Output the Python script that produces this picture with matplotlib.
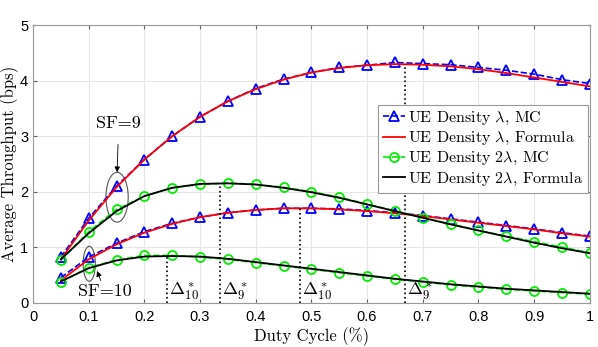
import numpy as np
import matplotlib.pyplot as plt
from matplotlib.patches import Ellipse

plt.rcParams['mathtext.fontset'] = 'cm'

# duty cycle points
duty = [0.05, 0.10, 0.15, 0.20, 0.25, 0.30, 0.35, 0.40, 0.45, 0.50,
        0.55, 0.60, 0.65, 0.70, 0.75, 0.80, 0.85, 0.90, 0.95, 1.00]

# SF=9
sf9_lam_mc = [0.82, 1.52, 2.10, 2.58, 3.00, 3.35, 3.63, 3.86, 4.03, 4.15,
              4.24, 4.28, 4.33, 4.31, 4.29, 4.24, 4.19, 4.12, 4.02, 3.95]
sf9_lam_formula = [0.78, 1.48, 2.08, 2.58, 3.00, 3.35, 3.63, 3.85, 4.02, 4.15,
                   4.23, 4.28, 4.30, 4.29, 4.26, 4.21, 4.14, 4.06, 3.98, 3.90]
sf9_2lam_mc = [0.76, 1.28, 1.68, 1.92, 2.07, 2.13, 2.16, 2.13, 2.08, 2.00,
               1.90, 1.78, 1.65, 1.53, 1.42, 1.30, 1.20, 1.10, 1.00, 0.90]
sf9_2lam_formula = [0.78, 1.25, 1.65, 1.92, 2.07, 2.14, 2.15, 2.13, 2.07, 1.99,
                    1.89, 1.77, 1.65, 1.53, 1.41, 1.30, 1.19, 1.08, 0.98, 0.89]

# SF=10
sf10_lam_mc = [0.45, 0.82, 1.07, 1.28, 1.43, 1.54, 1.62, 1.67, 1.70, 1.70,
               1.69, 1.66, 1.62, 1.57, 1.51, 1.45, 1.39, 1.33, 1.26, 1.20]
sf10_lam_formula = [0.40, 0.78, 1.05, 1.26, 1.42, 1.54, 1.62, 1.67, 1.70, 1.70,
                    1.68, 1.65, 1.61, 1.56, 1.50, 1.44, 1.38, 1.32, 1.25, 1.19]
sf10_2lam_mc = [0.38, 0.63, 0.77, 0.85, 0.85, 0.82, 0.78, 0.72, 0.66, 0.60,
                0.54, 0.48, 0.42, 0.37, 0.32, 0.28, 0.24, 0.21, 0.18, 0.15]
sf10_2lam_formula = [0.38, 0.62, 0.76, 0.83, 0.84, 0.83, 0.79, 0.73, 0.67, 0.61,
                     0.55, 0.49, 0.43, 0.38, 0.33, 0.29, 0.25, 0.22, 0.19, 0.16]

# optimal duty cycles and their peak throughput
opt_x = [0.241, 0.336, 0.480, 0.668]
opt_y = [0.84, 2.15, 1.70, 4.30]
opt_labels = [r'$\Delta^*_{10}$', r'$\Delta^*_{9}$', r'$\Delta^*_{10}$', r'$\Delta^*_{9}$']

fig = plt.figure(figsize=(5.98, 3.47), dpi=100)
ax = fig.add_axes([0.0552, 0.128, 0.931, 0.799])

mc_style = dict(linestyle='--', linewidth=1.2, markersize=6.5, markerfacecolor='none',
                markeredgewidth=1.3)
lam_mc, = ax.plot(duty, sf9_lam_mc, color='blue', marker='^', **mc_style)
ax.plot(duty, sf10_lam_mc, color='blue', marker='^', **mc_style)
lam_f, = ax.plot(duty, sf9_lam_formula, color='red', linewidth=1.3)
ax.plot(duty, sf10_lam_formula, color='red', linewidth=1.3)
lam2_mc, = ax.plot(duty, sf9_2lam_mc, color='#00ee00', marker='o', **mc_style)
ax.plot(duty, sf10_2lam_mc, color='#00ee00', marker='o', **mc_style)
lam2_f, = ax.plot(duty, sf9_2lam_formula, color='black', linewidth=1.3)
ax.plot(duty, sf10_2lam_formula, color='black', linewidth=1.3)

# optimal duty cycle markers
for x, y, lab in zip(opt_x, opt_y, opt_labels):
    ax.plot([x, x], [0, y], color='black', linestyle=':', linewidth=1.2)
    ax.text(x + 0.003, 0.2, lab, fontsize=13, ha='left', va='center')

# SF annotations
ax.add_patch(Ellipse((0.151, 1.90), 0.04, 0.90, fill=False, edgecolor='#555555', linewidth=0.8))
ax.add_patch(Ellipse((0.101, 0.70), 0.022, 0.63, fill=False, edgecolor='#555555', linewidth=0.8))
ax.annotate('SF=9', xy=(0.151, 2.35), xytext=(0.154, 3.24), fontsize=13,
            ha='center', va='center', fontname='cmr10',
            arrowprops=dict(arrowstyle='-|>', color='black', linewidth=0.6,
                            shrinkA=8, shrinkB=0, mutation_scale=8))
ax.annotate('SF=10', xy=(0.115, 0.57), xytext=(0.129, 0.21), fontsize=13,
            ha='center', va='center', fontname='cmr10',
            arrowprops=dict(arrowstyle='-|>', color='black', linewidth=0.6,
                            shrinkA=8, shrinkB=0, mutation_scale=8))

ax.set_xlim(0, 1)
ax.set_ylim(0, 5)
ax.set_xticks(np.arange(0, 1.01, 0.1))
ax.set_xticklabels(['0', '0.1', '0.2', '0.3', '0.4', '0.5', '0.6', '0.7', '0.8', '0.9', '1'])
ax.set_yticks(range(6))
ax.tick_params(direction='in', top=True, right=True, labelsize=10.5, color='#666666',
               length=3)
ax.tick_params(axis='x', pad=5)
for lab in ax.get_xticklabels() + ax.get_yticklabels():
    lab.set_fontfamily('Liberation Sans')
for s in ax.spines.values():
    s.set_color('#999999')
    s.set_linewidth(0.8)
ax.grid(True, color='#e6e6e6', linewidth=0.8)
ax.set_axisbelow(True)

ax.set_xlabel('Duty Cycle (%)', fontsize=12, fontname='cmr10')
ax.set_ylabel('Average Throughput (bps)', fontsize=12, fontname='cmr10')
ax.xaxis.set_label_coords(0.5, -0.088)
ax.yaxis.set_label_coords(-0.026, 0.5)

leg = ax.legend([lam_mc, lam_f, lam2_mc, lam2_f],
                [r'UE Density $\lambda$, MC', r'UE Density $\lambda$, Formula',
                 r'UE Density $2\lambda$, MC', r'UE Density $2\lambda$, Formula'],
                loc='upper right', bbox_to_anchor=(1.0, 0.718),
                handlelength=1.4, handletextpad=0.2, borderpad=0.3, labelspacing=0.2,
                borderaxespad=0.1, fancybox=False, framealpha=1, edgecolor='#999999',
                prop={'family': 'cmr10', 'size': 11.5})
leg.get_frame().set_linewidth(0.8)

fig.savefig('out.png', dpi=100)
